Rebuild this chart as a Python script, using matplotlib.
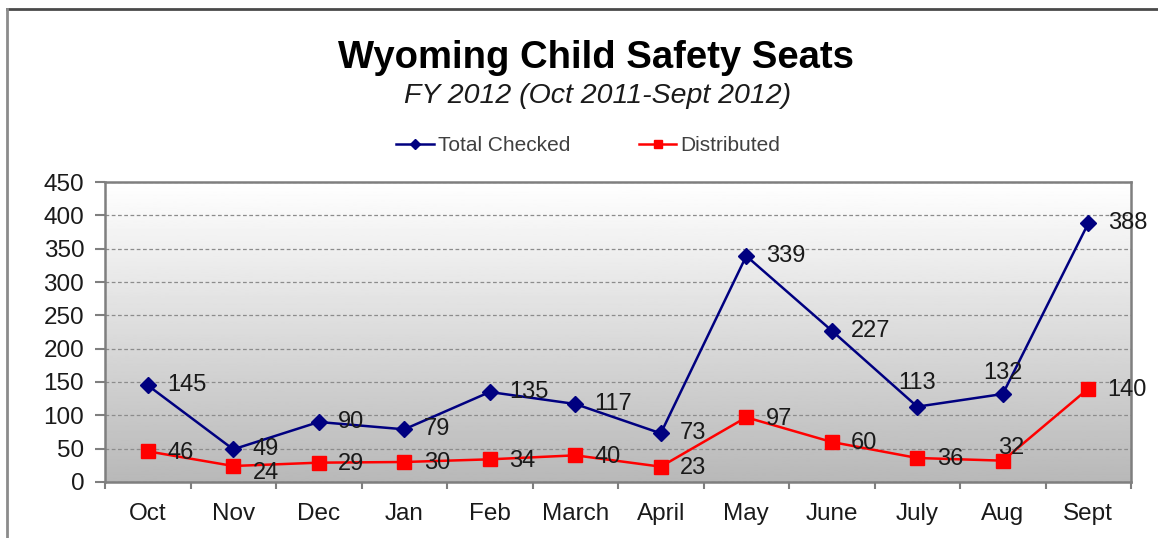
import matplotlib.pyplot as plt
import numpy as np
from matplotlib.lines import Line2D

plt.rcParams['font.family'] = ['Liberation Sans', 'DejaVu Sans']

months = ["Oct", "Nov", "Dec", "Jan", "Feb", "March", "April", "May", "June", "July", "Aug", "Sept"]
total_checked = [145, 49, 90, 79, 135, 117, 73, 339, 227, 113, 132, 388]
distributed = [46, 24, 29, 30, 34, 40, 23, 97, 60, 36, 32, 140]
y_ticks = [0, 50, 100, 150, 200, 250, 300, 350, 400, 450]

fig = plt.figure(figsize=(11.58, 5.38), dpi=100)
ax = fig.add_axes([0.0907, 0.1041, 0.8860, 0.5576])

# outer chart border (top and left visible)
fig.lines.append(Line2D([7 / 1158, 1.0], [1 - 8.5 / 538] * 2, transform=fig.transFigure,
                        color='#4a4a4a', linewidth=2.0))
fig.lines.append(Line2D([7.5 / 1158] * 2, [0.0, 1 - 8.5 / 538], transform=fig.transFigure,
                        color='#8c8c8c', linewidth=2.0))

# gradient plot background, white at top to grey at bottom
grad = np.linspace(1.0, 0.0, 256).reshape(-1, 1)
ax.imshow(grad, extent=[0, 1, 0, 1], transform=ax.transAxes, aspect='auto',
          cmap='gray', vmin=-2.6, vmax=1.0, zorder=0)

x = np.arange(len(months))
ax.plot(x, total_checked, color='#000080', linewidth=1.8, marker='D',
        markersize=8, label='Total Checked', zorder=3)
ax.plot(x, distributed, color='#ff0000', linewidth=1.8, marker='s',
        markersize=9.5, label='Distributed', zorder=3)

# data labels: mostly to the right, a few above
tc_offsets = {9: (0, 17), 10: (0, 15)}
ds_offsets = {10: (6, 9), 1: (14, -5)}
for i, v in enumerate(total_checked):
    dx, dy = tc_offsets.get(i, (14, 0))
    ha = 'center' if i in tc_offsets else 'left'
    ax.annotate(str(v), (x[i], v), xytext=(dx, dy), textcoords='offset points',
                ha=ha, va='center', fontsize=17, color='#1a1a1a', zorder=4)
for i, v in enumerate(distributed):
    dx, dy = ds_offsets.get(i, (14, -1))
    ha = 'center' if i == 10 else 'left'
    ax.annotate(str(v), (x[i], v), xytext=(dx, dy), textcoords='offset points',
                ha=ha, va='center', fontsize=17, color='#1a1a1a', zorder=4)

ax.set_xlim(-0.5, 11.5)
ax.set_ylim(0, 450)
ax.set_yticks(y_ticks)
ax.set_xticks(x)
ax.set_xticklabels(months)
ax.set_xticks(np.arange(-0.5, 12, 1), minor=True)
ax.tick_params(axis='x', which='major', length=0, pad=15, labelsize=17.5, labelcolor='#1a1a1a')
ax.tick_params(axis='x', which='minor', length=5, width=1.5, color='#7f7f7f', direction='out')
ax.tick_params(axis='y', length=7, width=1.5, color='#7f7f7f', pad=8, labelsize=17.5, labelcolor='#1a1a1a')

ax.grid(axis='y', linestyle=(0, (3, 2)), color='#8c8c8c', linewidth=0.9, zorder=1)
ax.set_axisbelow(True)
for s in ax.spines.values():
    s.set_color('#7f7f7f')
    s.set_linewidth(1.8)

fig.text(0.515, 0.892, "Wyoming Child Safety Seats", ha='center', va='center',
         fontsize=27.5, fontweight='bold')
fig.text(0.516, 0.821, "FY 2012 (Oct 2011-Sept 2012)", ha='center', va='center',
         fontsize=20.5, style='italic', color='#1a1a1a')

fig.legend(loc='center', bbox_to_anchor=(0.508, 0.729), ncol=2, frameon=False,
           fontsize=15, labelcolor='#404040', columnspacing=3.3, handlelength=1.8,
           handletextpad=0.2, markerscale=0.65)

fig.savefig("out.png", dpi=100)
